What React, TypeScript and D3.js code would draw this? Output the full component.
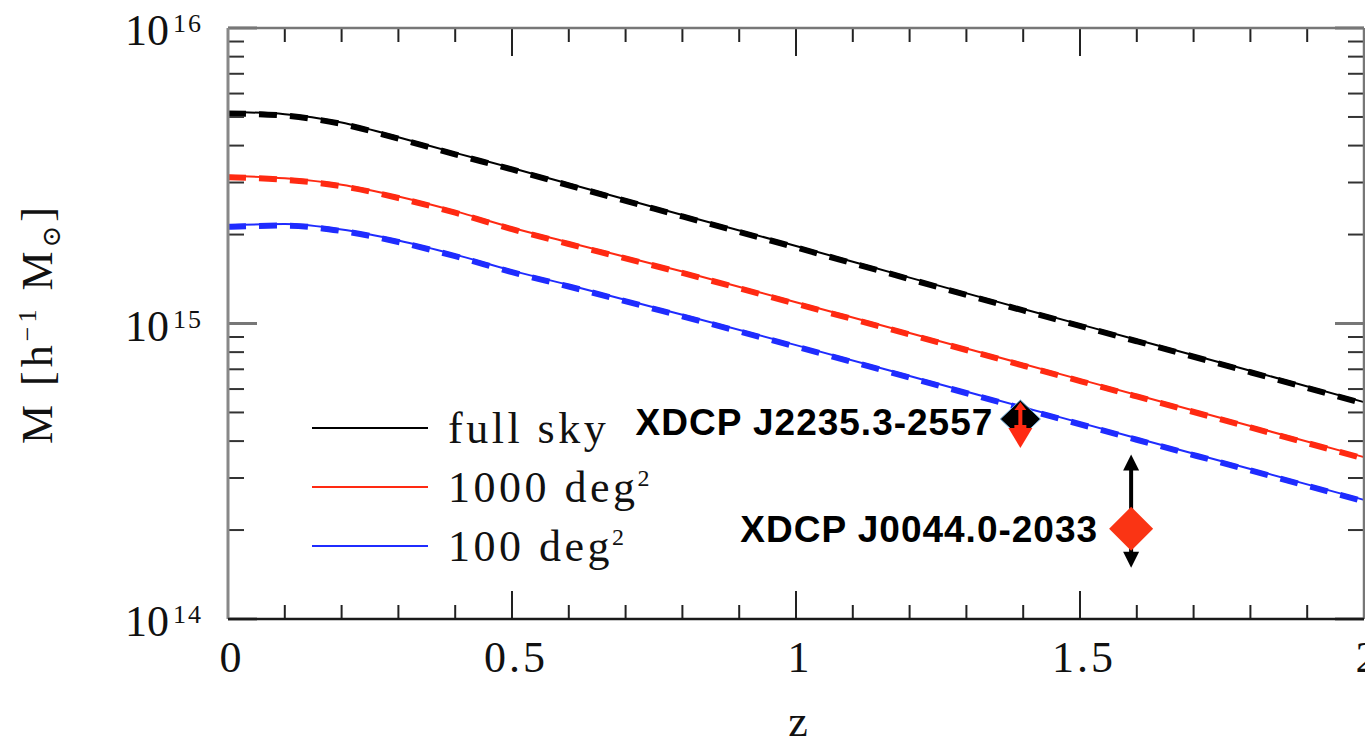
import React from "react";
import * as d3 from "d3";

// redshift grid
const Z = [0, 0.1, 0.2, 0.3, 0.4, 0.5, 0.6, 0.8, 1.0, 1.2, 1.4, 1.6, 1.8, 2.0];
// maximum mass [h^-1 Msun]
const FULL_SKY = [5.2e15, 5.11e15, 4.79e15, 4.27e15, 3.78e15, 3.36e15, 2.97e15, 2.33e15, 1.83e15, 1.43e15, 1.12e15, 8.81e14, 6.92e14, 5.42e14];
const DEG1000 = [3.16e15, 3.1e15, 2.95e15, 2.69e15, 2.4e15, 2.11e15, 1.88e15, 1.5e15, 1.18e15, 9.29e14, 7.29e14, 5.73e14, 4.5e14, 3.53e14];
const DEG100 = [2.15e15, 2.17e15, 2.08e15, 1.91e15, 1.71e15, 1.51e15, 1.35e15, 1.07e15, 8.45e14, 6.64e14, 5.21e14, 4.09e14, 3.22e14, 2.53e14];

const SERIES = [
  { name: "full sky", sup: "", values: FULL_SKY, color: "#000000" },
  { name: "1000 deg", sup: "2", values: DEG1000, color: "#ff2a12" },
  { name: "100 deg", sup: "2", values: DEG100, color: "#1f2cff" },
];

// clusters
const J2235 = { name: "XDCP J2235.3-2557", z: 1.395, m: 4.75e14 };
const J0044 = { name: "XDCP J0044.0-2033", z: 1.59, m: 2.02e14, mUp: 3.6e14, mLow: 1.49e14 };

const X_MAJOR = [0, 0.5, 1, 1.5, 2];
const X_LABELS = ["0", "0.5", "1", "1.5", "2"];
const Y_MAJOR = [1e14, 1e15, 1e16];
const Y_EXP = ["14", "15", "16"];

const W = 1365;
const H = 745;
const L = 228, R = 1364, T = 28, B = 619;

export default function App() {
  const x = d3.scaleLinear().domain([0, 2]).range([L, R]);
  const y = d3.scaleLog().domain([1e14, 1e16]).range([B, T]);

  const line = d3
    .line<[number, number]>()
    .x((d) => x(d[0]))
    .y((d) => y(d[1]))
    .curve(d3.curveMonotoneX);

  const xMinor = d3.range(0, 21).map((i) => i / 10);
  const yMinor: number[] = [];
  [1e14, 1e15].forEach((dec) => {
    for (let k = 2; k <= 9; k++) yMinor.push(k * dec);
  });

  const serif = "'Liberation Serif', 'DejaVu Serif', serif";
  const sans = "'Liberation Sans', Arial, sans-serif";

  const p1x = x(J2235.z), p1y = y(J2235.m);
  const p2x = x(J0044.z), p2y = y(J0044.m);
  const upY = y(J0044.mUp), lowY = y(J0044.mLow);

  return (
    <svg width={W} height={H} style={{ position: "absolute", left: 0, top: 0, background: "#fff" }}>
      {/* curves */}
      {SERIES.map((s) => {
        const pts = Z.map((z, i) => [z, s.values[i]] as [number, number]);
        const d = line(pts) || "";
        return (
          <g key={s.name}>
            <path d={d} fill="none" stroke={s.color} strokeWidth={6} strokeDasharray="18 13" transform="translate(0,1.5)" />
            <path d={d} fill="none" stroke={s.color} strokeWidth={2} />
          </g>
        );
      })}

      {/* x ticks */}
      {xMinor.map((v) => {
        const major = X_MAJOR.some((m) => Math.abs(m - v) < 1e-9);
        const len = major ? 28 : 14;
        return (
          <g key={"xt" + v} stroke="#222" strokeWidth={2}>
            <line x1={x(v)} x2={x(v)} y1={B} y2={B - len} />
            <line x1={x(v)} x2={x(v)} y1={T} y2={T + len} />
          </g>
        );
      })}
      {/* y ticks */}
      {yMinor.map((v) => (
        <g key={"ym" + v} stroke="#333" strokeWidth={2}>
          <line x1={L} x2={L + 16} y1={y(v)} y2={y(v)} />
          <line x1={R} x2={R - 16} y1={y(v)} y2={y(v)} />
        </g>
      ))}
      {Y_MAJOR.map((v) => (
        <g key={"yM" + v} stroke="#777" strokeWidth={3}>
          <line x1={L} x2={L + 29} y1={y(v)} y2={y(v)} />
          <line x1={R} x2={R - 29} y1={y(v)} y2={y(v)} />
        </g>
      ))}

      {/* frame */}
      <line x1={L} x2={R} y1={T} y2={T} stroke="#777" strokeWidth={2.5} />
      <line x1={R} x2={R} y1={T} y2={B} stroke="#777" strokeWidth={2.5} />
      <line x1={L} x2={L} y1={T} y2={B} stroke="#888" strokeWidth={3} />
      <line x1={L} x2={R} y1={B} y2={B} stroke="#1a1a1a" strokeWidth={2.5} />

      {/* x tick labels */}
      {X_MAJOR.map((v, i) => (
        <text key={"xl" + v} x={x(v) + 4} y={672} textAnchor="middle" fontFamily={serif} fontSize={44} letterSpacing={3} fill="#111">
          {X_LABELS[i]}
        </text>
      ))}
      {/* y tick labels */}
      {Y_MAJOR.map((v, i) => (
        <text key={"yl" + v} x={L - 25} y={y(v) + 17} textAnchor="end" fontFamily={serif} fontSize={44} fill="#111">
          10
          <tspan dx={4} dy={-13} fontSize={26} letterSpacing={2}>
            {Y_EXP[i]}
          </tspan>
        </text>
      ))}

      {/* axis titles */}
      <text x={(L + R) / 2 + 2} y={736} textAnchor="middle" fontFamily={serif} fontSize={44} fill="#111">
        z
      </text>
      <text transform={`translate(52, ${(T + B) / 2}) rotate(-90)`} textAnchor="middle" fontFamily={serif} fontSize={44} letterSpacing={4} fill="#111">
        M [h
        <tspan dy={-16} fontSize={26}>−1</tspan>
        <tspan dy={16}> M</tspan>
        <tspan dy={8} fontSize={26}>⊙</tspan>
        <tspan dy={-8}>]</tspan>
      </text>

      {/* legend */}
      {SERIES.map((s, i) => {
        const ly = 428 + i * 59;
        return (
          <g key={"lg" + s.name}>
            <line x1={312} x2={428} y1={ly} y2={ly} stroke={s.color} strokeWidth={2} />
            <text x={448} y={ly + 15} fontFamily={serif} fontSize={44} letterSpacing={3.5} fill="#111">
              {s.name}
              {s.sup ? (
                <tspan dx={-1} dy={-16} fontSize={24}>
                  {s.sup}
                </tspan>
              ) : null}
            </text>
          </g>
        );
      })}

      {/* cluster J2235 */}
      <g transform={`translate(${p1x},${p1y})`}>
        <path d="M0,-19 L20,0 L0,19 L-20,0 Z" fill="#000" stroke="#6aa9d8" strokeWidth={1} />
        <path d="M-12,9 L12,9 L0,29 Z" fill="#ff2a12" />
        <path d="M0,-17 L6,-9 L2,-9 L2,6 L6,6 L6,9 L-6,9 L-6,6 L-2,6 L-2,-9 L-6,-9 Z" fill="#ff2a12" />
      </g>
      <text x={p1x - 27} y={p1y + 16} textAnchor="end" fontFamily={sans} fontWeight="bold" fontSize={37} letterSpacing={1} fill="#000">
        {J2235.name}
      </text>

      {/* cluster J0044 with mass range */}
      <g>
        <line x1={p2x} x2={p2x} y1={upY + 12} y2={lowY - 12} stroke="#000" strokeWidth={4} />
        <path d={`M${p2x},${upY} L${p2x + 8},${upY + 16} L${p2x - 8},${upY + 16} Z`} fill="#000" />
        <path d={`M${p2x},${lowY} L${p2x + 8},${lowY - 16} L${p2x - 8},${lowY - 16} Z`} fill="#000" />
        <path d={`M${p2x},${p2y - 22} L${p2x + 22},${p2y} L${p2x},${p2y + 22} L${p2x - 22},${p2y} Z`} fill="#fa3414" />
      </g>
      <text x={p2x - 33} y={p2y + 13} textAnchor="end" fontFamily={sans} fontWeight="bold" fontSize={37} letterSpacing={1} fill="#000">
        {J0044.name}
      </text>
    </svg>
  );
}
